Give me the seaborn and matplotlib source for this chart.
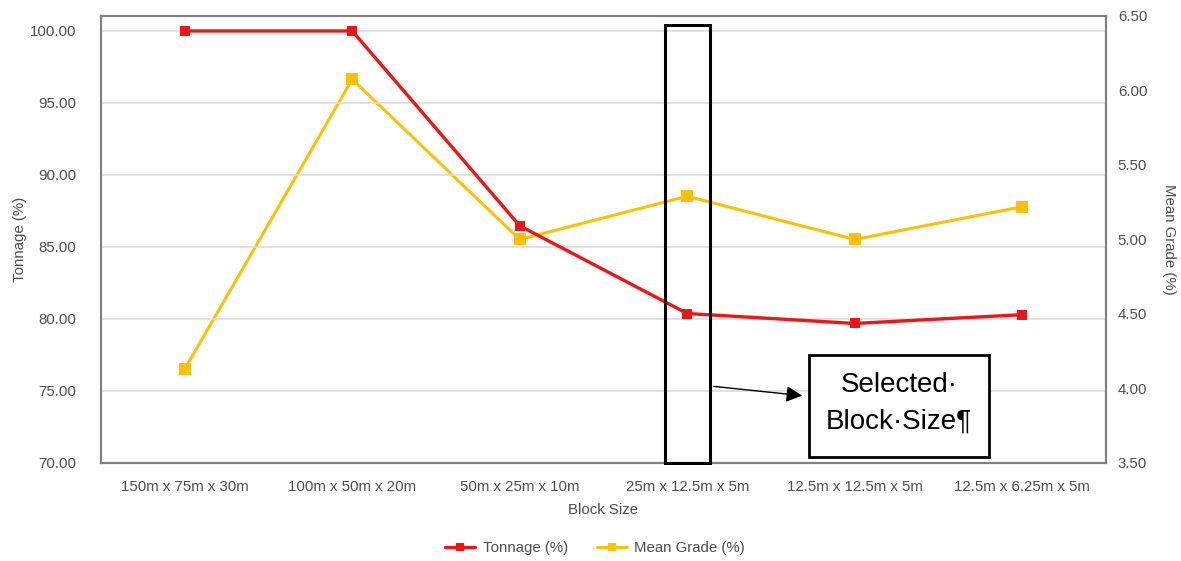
import numpy as np
import pandas as pd
import matplotlib
matplotlib.use("Agg")
import matplotlib.pyplot as plt
import seaborn as sns
from matplotlib.patches import Rectangle
from matplotlib.lines import Line2D
import matplotlib.transforms as mtransforms

block_sizes = ["150m x 75m x 30m", "100m x 50m x 20m", "50m x 25m x 10m",
               "25m x 12.5m x 5m", "12.5m x 12.5m x 5m", "12.5m x 6.25m x 5m"]
tonnage = [100.0, 100.0, 86.47, 80.38, 79.69, 80.30]
mean_grade = [4.13, 6.075, 5.00, 5.29, 5.00, 5.22]
left_ticks = [70, 75, 80, 85, 90, 95, 100]
right_ticks = [3.5, 4.0, 4.5, 5.0, 5.5, 6.0, 6.5]
selected = "25m x 12.5m x 5m"

df = pd.DataFrame({"pos": np.arange(len(block_sizes)),
                   "block": block_sizes,
                   "tonnage": tonnage,
                   "grade": mean_grade})

sns.set_style("white")
plt.rcParams["font.family"] = ["Liberation Sans", "DejaVu Sans"]
txt = "#4d4d4d"
red = "#f01414"
gold = "#ffc000"
fs = 10.8

fig = plt.figure(figsize=(11.81, 5.61), dpi=100)
ax = fig.add_axes([0.0855, 0.1747, 0.851, 0.7968])
ax2 = ax.twinx()

sns.lineplot(data=df, x="pos", y="tonnage", ax=ax, color=red, lw=2.4,
             marker="s", markersize=7, markeredgewidth=0, zorder=3)
sns.lineplot(data=df, x="pos", y="grade", ax=ax2, color=gold, lw=2.2,
             marker="s", markersize=8, markeredgewidth=0, zorder=2)

ax.set_xlim(-0.5, len(block_sizes) - 0.5)
ax.set_ylim(70, 101.04)
ax.set_yticks(left_ticks)
ax.set_yticklabels([f"{v:.2f}" for v in left_ticks])
ax2.set_ylim(3.5, 6.5)
ax2.set_yticks(right_ticks)
ax2.set_yticklabels([f"{v:.2f}" for v in right_ticks])
ax.set_xticks(df["pos"])
ax.set_xticklabels(block_sizes)

ax.grid(axis="y", color="#dcdcdc", lw=1.2)
ax.set_axisbelow(True)
ax2.grid(False)
ax.set_zorder(ax2.get_zorder() + 1)
ax.patch.set_visible(False)

for a in (ax, ax2):
    for s in a.spines.values():
        s.set_color("#808080")
        s.set_linewidth(1.5)
    a.tick_params(length=0, labelsize=fs, labelcolor=txt)
ax.tick_params(axis="y", pad=18)
ax.tick_params(axis="x", pad=12)
ax2.tick_params(axis="y", pad=8.5)

ax.set_xlabel("Block Size", fontsize=fs, color=txt, labelpad=7)
ax.set_ylabel("Tonnage (%)", fontsize=fs, color=txt, labelpad=2)
ax2.set_ylabel("Mean Grade (%)", fontsize=fs, color=txt, rotation=-90, labelpad=21)

# highlight box around the selected block size
sel = block_sizes.index(selected)
trans = mtransforms.blended_transform_factory(ax.transData, ax.transAxes)
ax.add_patch(Rectangle((sel - 0.13, 0.0), 0.265, 0.98, transform=trans,
                       fill=False, ec="black", lw=2.2, zorder=5, clip_on=False))

# callout box
ax.add_patch(Rectangle((0.7045, 0.014), 0.179, 0.2276, transform=ax.transAxes,
                       fill=True, fc="white", ec="black", lw=2.0, zorder=5))
ax.text(0.794, 0.133, "Selected·\nBlock·Size¶", transform=ax.transAxes,
        ha="center", va="center", fontsize=20, color="black",
        linespacing=1.55, zorder=6)
ax.annotate("", xy=(0.7005, 0.150), xytext=(0.607, 0.172),
            xycoords="axes fraction", textcoords="axes fraction",
            arrowprops=dict(arrowstyle="-|>", color="black", lw=1.0,
                            mutation_scale=24), zorder=6)

handles = [Line2D([], [], color=red, lw=2.4, marker="s", markersize=6, markeredgewidth=0),
           Line2D([], [], color=gold, lw=2.2, marker="s", markersize=6, markeredgewidth=0)]
fig.legend(handles, ["Tonnage (%)", "Mean Grade (%)"], loc="center",
           bbox_to_anchor=(0.504, 0.023), ncol=2, frameon=False, fontsize=fs,
           labelcolor=txt, handlelength=2.0, handletextpad=0.5, columnspacing=1.9)

fig.savefig("out.png", dpi=100)
